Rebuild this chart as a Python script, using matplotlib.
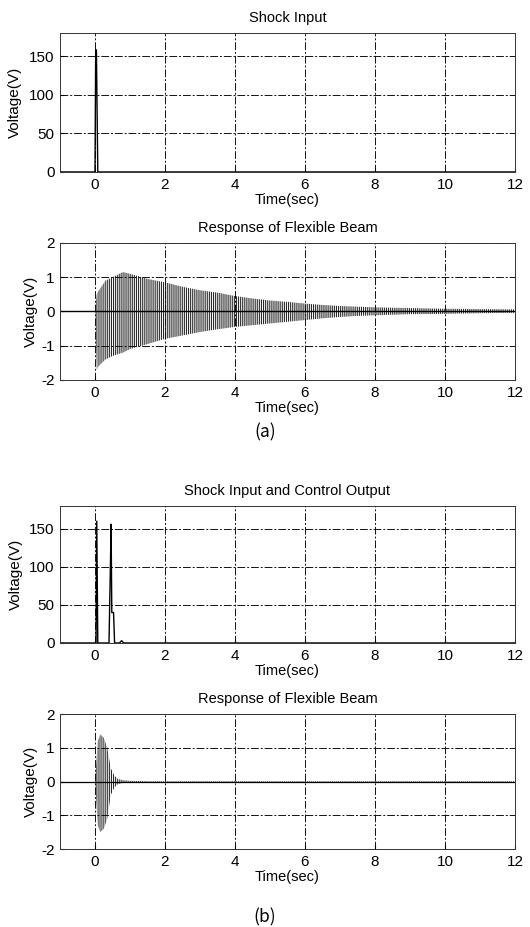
import matplotlib
matplotlib.use("Agg")
import matplotlib.pyplot as plt

plt.rcParams['font.family'] = ['Liberation Sans', 'DejaVu Sans']
plt.rcParams['hatch.linewidth'] = 0.8
plt.rcParams['axes.unicode_minus'] = False

# (a) shock input
t_shock = [-1, 0.0, 0.02, 0.04, 0.08, 12]
v_shock = [0, 0, 158, 158, 0, 0]

# (a) beam response envelope (dense oscillation)
t_resp_a = [0.0, 0.05, 0.1, 0.3, 0.5, 0.8, 1.0, 1.5, 2.0, 2.5, 3.0, 3.5,
            4.0, 4.5, 5.0, 5.5, 6.0, 6.5, 7.0, 7.5, 8.0, 9.0, 10.0, 11.0, 12.0]
up_resp_a = [0.0, 0.5, 0.6, 0.9, 1.0, 1.15, 1.1, 0.95, 0.85, 0.72, 0.62, 0.55,
             0.45, 0.38, 0.32, 0.28, 0.23, 0.19, 0.16, 0.14, 0.12, 0.10, 0.08, 0.07, 0.06]
lo_resp_a = [0.0, -1.7, -1.6, -1.4, -1.3, -1.2, -1.1, -0.95, -0.8, -0.7, -0.6, -0.52,
             -0.45, -0.4, -0.35, -0.3, -0.25, -0.2, -0.16, -0.13, -0.11, -0.08, -0.07, -0.05, -0.04]

# (b) shock input and control output
t_ctrl = [-1, 0.0, 0.03, 0.05, 0.08, 0.40, 0.44, 0.46, 0.48, 0.53, 0.56, 0.70, 0.76, 0.82, 12]
v_ctrl = [0, 0, 0, 160, 0, 0, 100, 156, 40, 40, 0, 0, 3, 0, 0]

# (b) beam response envelope
t_resp_b = [0.0, 0.08, 0.15, 0.25, 0.35, 0.45, 0.55, 0.65, 0.8, 1.0, 1.5, 12.0]
up_resp_b = [0.0, 1.2, 1.4, 1.3, 1.0, 0.4, 0.18, 0.08, 0.04, 0.02, 0.01, 0.01]
lo_resp_b = [0.0, -1.3, -1.5, -1.4, -1.1, -0.4, -0.18, -0.08, -0.04, -0.02, -0.01, -0.01]

xticks = [0, 2, 4, 6, 8, 10, 12]
fs = 10.5

fig = plt.figure(figsize=(5.3, 9.27), dpi=100)


def style(ax, title, ylim, yticks, ypad):
    ax.set_xlim(-1, 12)
    ax.set_ylim(*ylim)
    ax.set_xticks(xticks)
    ax.set_yticks(yticks)
    ax.set_title(title, fontsize=fs, pad=8)
    ax.set_xlabel("Time(sec)", fontsize=fs, labelpad=1)
    ax.set_ylabel("Voltage(V)", fontsize=fs + 0.5, labelpad=ypad)
    ax.tick_params(direction='in', length=3, pad=4, labelsize=fs + 0.5)
    ax.grid(True, color='#111111', linestyle=(0, (8, 2, 2, 2)), linewidth=0.7)
    for s in ax.spines.values():
        s.set_linewidth(0.7)
        s.set_color('#333333')


# top panel of (a)
ax1 = fig.add_axes([0.1132, 0.8145, 0.8585, 0.150])
ax1.plot(t_shock, v_shock, color='black', linewidth=1.0)
style(ax1, "Shock Input", (0, 180), [0, 50, 100, 150], 5)

# bottom panel of (a)
ax2 = fig.add_axes([0.1132, 0.5901, 0.8585, 0.1478])
ax2.fill_between(t_resp_a, lo_resp_a, up_resp_a, facecolor='none',
                 edgecolor='#2a2a2a', hatch='||||||||', linewidth=0)
ax2.axhline(0, color='black', linewidth=1.0)
style(ax2, "Response of Flexible Beam", (-2, 2), [-2, -1, 0, 1, 2], 2)

fig.text(0.5, 1 - 432 / 927, "(a)", ha='center', va='center',
         fontsize=12.5, family=['Noto Sans CJK KR', 'DejaVu Sans'])

# top panel of (b)
ax3 = fig.add_axes([0.1132, 0.3064, 0.8585, 0.1478])
ax3.plot(t_ctrl, v_ctrl, color='black', linewidth=1.0)
style(ax3, "Shock Input and Control Output", (0, 180), [0, 50, 100, 150], 4)

# bottom panel of (b)
ax4 = fig.add_axes([0.1132, 0.0841, 0.8585, 0.1456])
ax4.fill_between(t_resp_b, lo_resp_b, up_resp_b, facecolor='none',
                 edgecolor='#2a2a2a', hatch='||||||||', linewidth=0)
ax4.axhline(0, color='black', linewidth=0.9)
style(ax4, "Response of Flexible Beam", (-2, 2), [-2, -1, 0, 1, 2], 2)

fig.text(0.5, 1 - 917 / 927, "(b)", ha='center', va='center',
         fontsize=12.5, family=['Noto Sans CJK KR', 'DejaVu Sans'])

fig.savefig("out.png", dpi=100)
